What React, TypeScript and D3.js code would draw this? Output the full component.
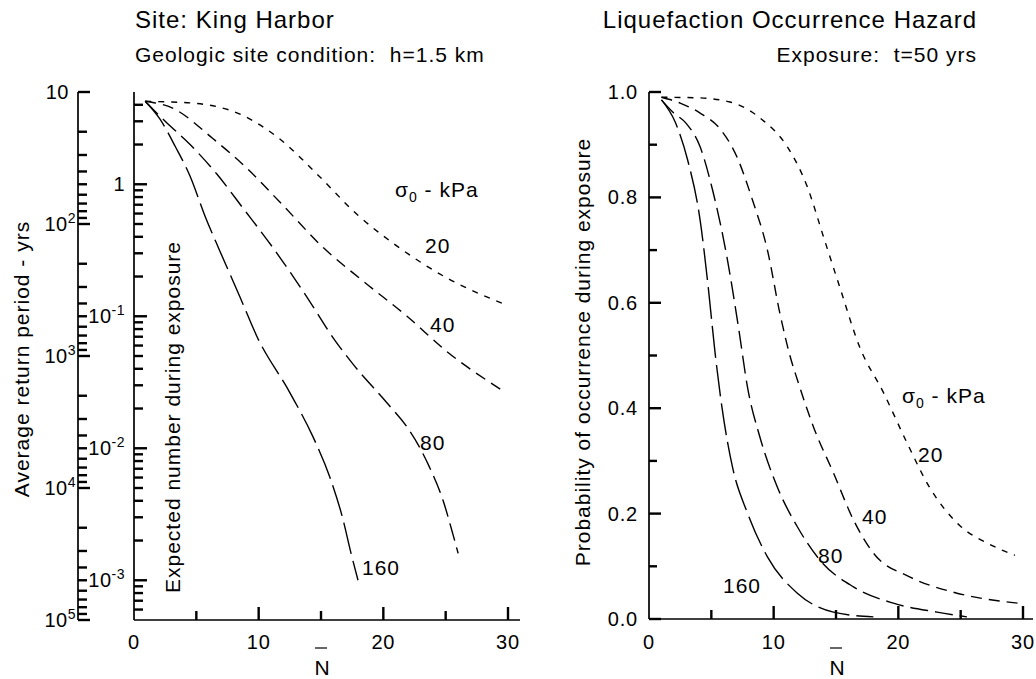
import React from "react";
import * as d3 from "d3";

// ---------- data ----------
const N_MAJOR = [0, 10, 20, 30];
const N_MINOR = [5, 15, 25];
const PROB_MAJOR = [0, 0.2, 0.4, 0.6, 0.8, 1.0];
const PROB_MINOR = [0.1, 0.3, 0.5, 0.7, 0.9];
const NUM_MAJOR = [1e-3, 1e-2, 1e-1, 1];
const NUM_EXP = ["-3", "-2", "-1", ""];
const RP_MAJOR = [10, 1e2, 1e3, 1e4, 1e5];
const RP_EXP = ["", "2", "3", "4", "5"];
const SIGMA_LABELS = ["20", "40", "80", "160"];

// Expected number during exposure vs N (left)
const num20: [number, number][] = [[0.9, 4.25], [3, 4.2], [5, 4.1], [8.5, 3.4], [11.7, 2.2], [14.7, 1.19], [17.9, 0.59], [21.1, 0.34], [25.1, 0.195], [29.75, 0.123]];
const num40: [number, number][] = [[0.9, 4.25], [3.1, 3.77], [6.3, 2.23], [9.06, 1.32], [11.9, 0.7], [15.2, 0.33], [18.4, 0.184], [21.9, 0.1], [25.1, 0.054], [29.4, 0.028]];
const num80: [number, number][] = [[0.9, 4.25], [2.5, 3.0], [4.5, 2.0], [6.66, 1.19], [8.74, 0.66], [11.15, 0.33], [13.7, 0.148], [16.1, 0.066], [17.6, 0.043], [20.3, 0.022], [21.9, 0.0145], [22.9, 0.0102], [23.7, 0.0072], [24.8, 0.004], [25.6, 0.0022], [26.0, 0.0016]];
const num160: [number, number][] = [[0.9, 4.26], [2.1, 3.1], [3.3, 1.94], [4.5, 1.15], [5.7, 0.573], [6.9, 0.31], [8.5, 0.14], [9.87, 0.07], [12.51, 0.0263], [14.36, 0.0122], [15.72, 0.006], [16.76, 0.0029], [17.41, 0.0016], [17.97, 0.001]];

// Probability of occurrence vs N (right)
const prob20: [number, number][] = [[1.0, 0.99], [3.85, 0.989], [6.5, 0.981], [9.1, 0.947], [11.1, 0.896], [12.7, 0.82], [14.0, 0.725], [15.3, 0.63], [16.9, 0.516], [18.8, 0.43], [20.7, 0.334], [22.5, 0.25], [24.9, 0.178], [27.3, 0.142], [29.35, 0.121]];
const prob40: [number, number][] = [[1.0, 0.99], [2.5, 0.979], [4.1, 0.96], [5.7, 0.93], [7.05, 0.877], [8.3, 0.795], [9.5, 0.7], [10.5, 0.58], [11.3, 0.5], [11.9, 0.454], [13.2, 0.364], [14.8, 0.277], [16.4, 0.188], [18.0, 0.125], [20.9, 0.08], [24.4, 0.051], [29.6, 0.03]];
const prob80: [number, number][] = [[1.0, 0.985], [1.9, 0.962], [3.0, 0.94], [4.1, 0.896], [5.1, 0.814], [6.25, 0.687], [7.2, 0.55], [7.9, 0.44], [8.9, 0.345], [10.3, 0.25], [11.9, 0.175], [13.7, 0.112], [16.4, 0.061], [19.6, 0.03], [23.1, 0.013], [25.5, 0.004]];
const prob160: [number, number][] = [[1.0, 0.985], [2.1, 0.943], [3.1, 0.871], [4.1, 0.757], [4.75, 0.63], [5.3, 0.505], [5.85, 0.402], [6.7, 0.288], [7.9, 0.201], [9.5, 0.118], [11.9, 0.049], [14.8, 0.013], [18.0, 0.004]];

// ---------- styles ----------
const FONT = "'Liberation Sans', Arial, Helvetica, sans-serif";
const DASHES = ["6,7", "11,7", "18,7", "32,7"];
const INK = "#000";
const TICK_W = 2.4;

function minorLog(lo: number, hi: number): number[] {
  const out: number[] = [];
  for (let e = -5; e <= 6; e++) {
    for (let k = 2; k <= 9; k++) {
      const v = k * Math.pow(10, e);
      if (v > lo * 1.0001 && v < hi * 0.9999) out.push(v);
    }
  }
  return out;
}

export default function App() {
  // left panel scales
  const xL = d3.scaleLinear().domain([0, 30]).range([134, 508]);
  const yNum = d3.scaleLog().domain([5e-4, 5]).range([620, 92]);
  const yRP = d3.scaleLog().domain([10, 1e5]).range([92, 620]);
  // right panel scales
  const xR = d3.scaleLinear().domain([0, 30]).range([649, 1023]);
  const yP = d3.scaleLinear().domain([0, 1]).range([619, 92]);

  const lineL = d3.line<[number, number]>().x((d) => xL(d[0])).y((d) => yNum(d[1])).curve(d3.curveMonotoneX);
  const lineR = d3.line<[number, number]>().x((d) => xR(d[0])).y((d) => yP(d[1])).curve(d3.curveMonotoneX);

  const leftSeries = [num20, num40, num80, num160];
  const rightSeries = [prob20, prob40, prob80, prob160];

  const txt = { fontFamily: FONT, fill: INK } as const;
  const axisStyle = { stroke: INK, strokeWidth: 1.7, fill: "none" } as const;

  const hTick = (k: string, x0: number, y: number, len: number) => (
    <line key={k} x1={x0} x2={x0 + len} y1={y} y2={y} stroke={INK} strokeWidth={TICK_W} />
  );
  const vTick = (k: string, x: number, y0: number, len: number) => (
    <line key={k} x1={x} x2={x} y1={y0} y2={y0 - len} stroke={INK} strokeWidth={TICK_W} />
  );

  const xAxis = (x: d3.ScaleLinear<number, number>, y0: number, x1: number, id: string) => (
    <g>
      <path d={`M${x(0)},${y0}H${x1}`} {...axisStyle} />
      {N_MAJOR.filter((v) => v > 0).map((v) => vTick(id + "M" + v, x(v), y0, 13))}
      {N_MINOR.map((v) => vTick(id + "m" + v, x(v), y0, 9))}
      {N_MAJOR.map((v) => (
        <text key={"t" + v} x={x(v)} y={649} fontSize={20} textAnchor="middle" letterSpacing={0.8} {...txt}>
          {v}
        </text>
      ))}
      <path d={`M${x(15) - 6},648H${x(15) + 6}`} stroke={INK} strokeWidth={1.2} />
      <text x={x(15) + 1} y={675} fontSize={21} textAnchor="middle" {...txt}>N</text>
    </g>
  );

  return (
    <svg width={1036} height={679} style={{ position: "absolute", left: 0, top: 0, background: "#fff" }}>
      <rect x={0} y={0} width={1036} height={679} fill="#fff" />
      {/* ---------- titles ---------- */}
      <text x={135} y={28} fontSize={24} letterSpacing={1} {...txt}>
        Site: King Harbor
      </text>
      <text x={135} y={62} fontSize={21} letterSpacing={1} style={{ whiteSpace: "pre" }} {...txt}>
        {"Geologic site condition:  h=1.5 km"}
      </text>
      <text x={977} y={28} fontSize={24} letterSpacing={1} textAnchor="end" {...txt}>
        Liquefaction Occurrence Hazard
      </text>
      <text x={977} y={62} fontSize={21} letterSpacing={1} textAnchor="end" style={{ whiteSpace: "pre" }} {...txt}>
        {"Exposure:  t=50 yrs"}
      </text>

      {/* ---------- left panel: outer return-period axis ---------- */}
      <path d={`M78,${yRP(10)}V${yRP(1e5)}`} {...axisStyle} />
      {RP_MAJOR.map((v) => hTick("rpM" + v, 78, yRP(v), 12))}
      {minorLog(10, 1e5).map((v) => hTick("rpm" + v, 78, yRP(v), 9))}
      {RP_MAJOR.map((v, i) => (
        <text key={"rpt" + v} x={RP_EXP[i] ? 76 : 69} y={yRP(v) + 7} fontSize={20} textAnchor="end" letterSpacing={0.5} {...txt}>
          10
          {RP_EXP[i] ? <tspan fontSize={14} dy={-8}>{RP_EXP[i]}</tspan> : null}
        </text>
      ))}
      <text transform={`translate(29,359) rotate(-90)`} fontSize={21} letterSpacing={1} textAnchor="middle" {...txt}>
        Average return period - yrs
      </text>

      {/* ---------- left panel: inner expected-number axis ---------- */}
      <path d={`M134,${yNum(5)}V${yNum(5e-4)}`} {...axisStyle} />
      {NUM_MAJOR.map((v) => hTick("nM" + v, 134, yNum(v), 13))}
      {minorLog(5e-4, 5).map((v) => hTick("nm" + v, 134, yNum(v), 9))}
      {NUM_MAJOR.map((v, i) => (
        <text key={"nt" + v} x={125} y={yNum(v) + 7} fontSize={20} textAnchor="end" letterSpacing={0.5} {...txt}>
          {NUM_EXP[i] ? "10" : "1"}
          {NUM_EXP[i] ? <tspan fontSize={14} dy={-8}>{NUM_EXP[i]}</tspan> : null}
        </text>
      ))}
      <text transform={`translate(180,593) rotate(-90)`} fontSize={21} letterSpacing={1} textAnchor="start" {...txt}>
        Expected number during exposure
      </text>
      {xAxis(xL, 620, 520, "L")}

      {leftSeries.map((s, i) => (
        <path key={"L" + i} d={lineL(s) || ""} fill="none" stroke={INK} strokeWidth={1.4} strokeDasharray={DASHES[i]} />
      ))}
      <text x={395} y={197} fontSize={21} letterSpacing={1} {...txt}>
        σ<tspan fontSize={14} dy={5}>0</tspan>
        <tspan dy={-5}> - kPa</tspan>
      </text>
      <text x={425} y={253} fontSize={21} letterSpacing={1} {...txt}>{SIGMA_LABELS[0]}</text>
      <text x={430} y={332} fontSize={21} letterSpacing={1} {...txt}>{SIGMA_LABELS[1]}</text>
      <text x={420} y={450} fontSize={21} letterSpacing={1} {...txt}>{SIGMA_LABELS[2]}</text>
      <text x={362} y={575} fontSize={21} letterSpacing={1} {...txt}>{SIGMA_LABELS[3]}</text>

      {/* ---------- right panel ---------- */}
      <path d={`M649,${yP(1)}V${yP(0)}`} {...axisStyle} />
      {PROB_MAJOR.map((v) => hTick("pM" + v, 649, yP(v), 12))}
      {PROB_MINOR.map((v) => hTick("pm" + v, 649, yP(v), 8))}
      {PROB_MAJOR.map((v) => (
        <text key={"pt" + v} x={638} y={yP(v) + 7} fontSize={20} textAnchor="end" letterSpacing={0.8} {...txt}>
          {d3.format(".1f")(v)}
        </text>
      ))}
      <text transform={`translate(590,352) rotate(-90)`} fontSize={21} letterSpacing={1} textAnchor="middle" {...txt}>
        Probability of occurrence during exposure
      </text>
      {xAxis(xR, 619, 1033, "R")}

      {rightSeries.map((s, i) => (
        <path key={"R" + i} d={lineR(s) || ""} fill="none" stroke={INK} strokeWidth={1.4} strokeDasharray={DASHES[i]} />
      ))}
      <text x={902} y={403} fontSize={21} letterSpacing={1} {...txt}>
        σ<tspan fontSize={14} dy={5}>0</tspan>
        <tspan dy={-5}> - kPa</tspan>
      </text>
      <text x={918} y={462} fontSize={21} letterSpacing={1} {...txt}>{SIGMA_LABELS[0]}</text>
      <text x={862} y={524} fontSize={21} letterSpacing={1} {...txt}>{SIGMA_LABELS[1]}</text>
      <text x={818} y={563} fontSize={21} letterSpacing={1} {...txt}>{SIGMA_LABELS[2]}</text>
      <text x={723} y={593} fontSize={21} letterSpacing={1} {...txt}>{SIGMA_LABELS[3]}</text>
    </svg>
  );
}
